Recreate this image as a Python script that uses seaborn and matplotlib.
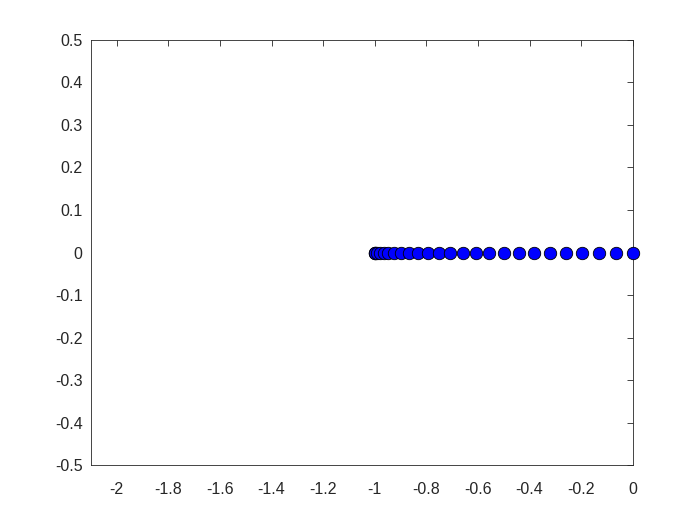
import numpy as np
import pandas as pd
import matplotlib
matplotlib.use("Agg")
import matplotlib.pyplot as plt
import seaborn as sns

# point positions, ordered left to right
x_vals = [-1.0, -1.0, -0.998, -0.991, -0.981, -0.966, -0.947, -0.924, -0.897,
          -0.866, -0.832, -0.793, -0.752, -0.707, -0.659, -0.609, -0.556,
          -0.5, -0.442, -0.383, -0.321, -0.259, -0.195, -0.131, -0.065, 0.0]
y_vals = [0.0] * len(x_vals)

x_ticks = [-2, -1.8, -1.6, -1.4, -1.2, -1, -0.8, -0.6, -0.4, -0.2, 0]
y_ticks = [-0.5, -0.4, -0.3, -0.2, -0.1, 0, 0.1, 0.2, 0.3, 0.4, 0.5]

df = pd.DataFrame({"x": x_vals, "y": y_vals})

sns.set_theme(style="white")
plt.rcParams["font.family"] = ["Liberation Sans", "DejaVu Sans"]
plt.rcParams["axes.unicode_minus"] = False

fig = plt.figure(figsize=(7, 5.25), dpi=100)
ax = fig.add_axes([0.13, 0.114, 0.774, 0.81])

sns.scatterplot(data=df, x="x", y="y", ax=ax, s=80, color="#0000ff",
                edgecolor="black", linewidth=0.6, zorder=3, clip_on=False)

ax.set_xlim(-2.1, 0)
ax.set_ylim(-0.5, 0.5)
ax.set_xticks(x_ticks)
ax.set_yticks(y_ticks)
ax.set_xticklabels(["%g" % t for t in x_ticks])
ax.set_yticklabels(["%g" % t for t in y_ticks])
ax.set_xlabel("")
ax.set_ylabel("")

axis_col = "#262626"
for sp in ax.spines.values():
    sp.set_color(axis_col)
    sp.set_linewidth(0.6)
ax.tick_params(direction="in", length=4, width=0.6, colors=axis_col,
               labelsize=11.5, top=True, right=True, labelcolor=axis_col)
ax.tick_params(axis="x", pad=12)
ax.tick_params(axis="y", pad=6)

fig.savefig("out.png", dpi=100)
